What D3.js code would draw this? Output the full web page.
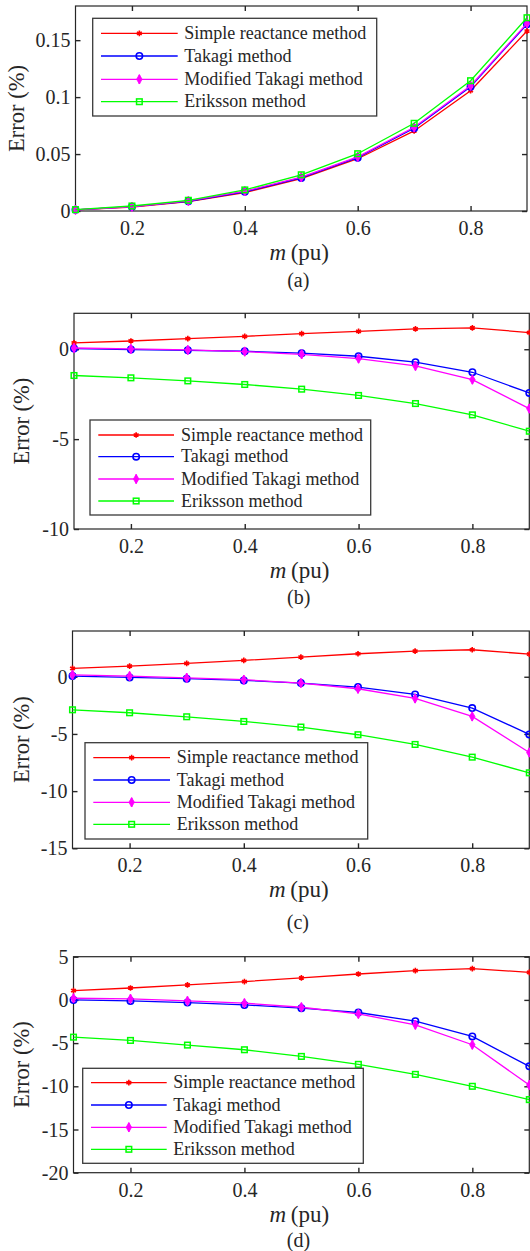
<!DOCTYPE html>
<html>
<head>
<meta charset="utf-8">
<script src="https://cdn.jsdelivr.net/npm/d3@7"></script>
<style>
  html, body { margin: 0; padding: 0; background: #ffffff; }
  svg { display: block; }
  text { font-family: "Liberation Serif", "Times New Roman", serif; fill: #262626; }
</style>
</head>
<body>
<svg id="chart" width="530" height="1251"></svg>
<script>
// ---------------- DATA ----------------
const xValues = [0.1, 0.2, 0.3, 0.4, 0.5, 0.6, 0.7, 0.8, 0.9];
const xTicks = [0.2, 0.4, 0.6, 0.8];
const seriesNames = ["Simple reactance method", "Takagi method", "Modified Takagi method", "Eriksson method"];
const panelCaptions = ["(a)", "(b)", "(c)", "(d)"];

// (a)
const aSimple   = [0.0009, 0.0035, 0.0082, 0.0162, 0.0285, 0.0459, 0.0703, 0.1056, 0.158];
const aTakagi   = [0.0010, 0.0038, 0.0085, 0.0168, 0.0290, 0.0468, 0.0726, 0.1090, 0.164];
const aModified = [0.0010, 0.0037, 0.0088, 0.0174, 0.0297, 0.0476, 0.0735, 0.1100, 0.1647];
const aEriksson = [0.0012, 0.0044, 0.0094, 0.0185, 0.0318, 0.0503, 0.0770, 0.1144, 0.1697];
const aYTicks = [0, 0.05, 0.1, 0.15];
const aYDomain = [0, 0.18];

// (b)
const bSimple   = [0.35, 0.46, 0.59, 0.72, 0.87, 1.00, 1.13, 1.19, 0.93];
const bTakagi   = [0.04, -0.02, -0.06, -0.11, -0.22, -0.39, -0.72, -1.28, -2.43];
const bModified = [0.07, 0.02, -0.04, -0.13, -0.28, -0.52, -0.93, -1.69, -3.30];
const bEriksson = [-1.46, -1.59, -1.76, -1.96, -2.22, -2.57, -3.02, -3.65, -4.56];
const bYTicks = [-10, -5, 0];
const bYDomain = [-10, 2];

// (c)
const cSimple   = [0.73, 0.93, 1.17, 1.43, 1.72, 2.01, 2.24, 2.36, 1.98];
const cTakagi   = [0.06, -0.06, -0.17, -0.32, -0.55, -0.90, -1.55, -2.74, -5.04];
const cModified = [0.17, 0.06, -0.09, -0.26, -0.55, -1.05, -1.90, -3.47, -6.62];
const cEriksson = [-2.89, -3.15, -3.50, -3.91, -4.40, -5.07, -5.92, -7.03, -8.40];
const cYTicks = [-15, -10, -5, 0];
const cYDomain = [-15, 4];

// (d)
const dSimple   = [1.08, 1.38, 1.73, 2.12, 2.54, 3.00, 3.38, 3.62, 3.19];
const dTakagi   = [0.00, -0.12, -0.31, -0.58, -0.96, -1.46, -2.46, -4.23, -7.69];
const dModified = [0.19, 0.12, -0.12, -0.38, -0.85, -1.62, -2.88, -5.19, -9.85];
const dEriksson = [-4.31, -4.69, -5.23, -5.77, -6.54, -7.46, -8.62, -10.00, -11.54];
const dYTicks = [-20, -15, -10, -5, 0, 5];
const dYDomain = [-20, 5];

// ---------------- STYLE / LAYOUT ----------------
const colors = ["#ff0000", "#0000ff", "#ff00ff", "#00ff00"];
const axisColor = "#262626";
const tickFont = 20, labelFont = 22.5, legendFont = 18;

const panels = [
  { series: [aSimple, aTakagi, aModified, aEriksson], yTicks: aYTicks, yDomain: aYDomain,
    left: 75.5, right: 527, top: 6, bottom: 211, ylabelX: 24, captionY: 287,
    legend: { x0: 92.7, x1: 376.7, y0: 18.3, y1: 116, rows: [33.3, 56, 79.3, 101.7], lx0: 101, lx1: 177.7, tx: 184.3 } },
  { series: [bSimple, bTakagi, bModified, bEriksson], yTicks: bYTicks, yDomain: bYDomain,
    left: 74, right: 529.3, top: 313.3, bottom: 529, ylabelX: 29, captionY: 603.5,
    legend: { x0: 90, x1: 370.7, y0: 420, y1: 515, rows: [435, 456.7, 479, 501], lx0: 98.3, lx1: 174, tx: 181 } },
  { series: [cSimple, cTakagi, cModified, cEriksson], yTicks: cYTicks, yDomain: cYDomain,
    left: 72.5, right: 529.3, top: 631, bottom: 848.3, ylabelX: 29, captionY: 929,
    legend: { x0: 85, x1: 367.7, y0: 742.7, y1: 839, rows: [757.7, 780, 802.3, 824.3], lx0: 93.3, lx1: 170, tx: 176.7 } },
  { series: [dSimple, dTakagi, dModified, dEriksson], yTicks: dYTicks, yDomain: dYDomain,
    left: 73.5, right: 529.3, top: 956.7, bottom: 1172.7, ylabelX: 29, captionY: 1247,
    legend: { x0: 82.7, x1: 363.3, y0: 1068.3, y1: 1163.3, rows: [1082.7, 1105, 1127.3, 1149.3], lx0: 91, lx1: 166.7, tx: 173.3 } }
];

const svg = d3.select("#chart");

function drawMarker(g, i, cx, cy) {
  const c = colors[i];
  if (i === 0) {
    g.append("path").attr("d", d3.symbol().type(d3.symbolAsterisk).size(22)())
      .attr("transform", `translate(${cx},${cy})`).attr("fill", "none").attr("stroke", c).attr("stroke-width", 1.6);
  } else if (i === 1) {
    g.append("circle").attr("cx", cx).attr("cy", cy).attr("r", 3.2)
      .attr("fill", "none").attr("stroke", c).attr("stroke-width", 1.6);
  } else if (i === 2) {
    g.append("path").attr("d", d3.symbol().type(d3.symbolDiamond).size(26)())
      .attr("transform", `translate(${cx},${cy})`).attr("fill", c).attr("stroke", c).attr("stroke-width", 0.8);
    g.append("line").attr("x1", cx).attr("x2", cx).attr("y1", cy - 4.5).attr("y2", cy + 4.5)
      .attr("stroke", c).attr("stroke-width", 1.6);
  } else {
    g.append("rect").attr("x", cx - 2.8).attr("y", cy - 2.8).attr("width", 5.6).attr("height", 5.6)
      .attr("fill", "none").attr("stroke", c).attr("stroke-width", 1.5);
  }
}

panels.forEach((p, pi) => {
  const x = d3.scaleLinear().domain([xValues[0], xValues[xValues.length - 1]]).range([p.left, p.right]);
  const y = d3.scaleLinear().domain(p.yDomain).range([p.bottom, p.top]);
  const g = svg.append("g");

  // box
  g.append("rect").attr("x", p.left).attr("y", p.top).attr("width", p.right - p.left).attr("height", p.bottom - p.top)
    .attr("fill", "#ffffff").attr("stroke", axisColor).attr("stroke-width", 1.2);

  // axes via d3 axis, inward ticks
  const tickLen = 5;
  const xb = g.append("g").attr("transform", `translate(0,${p.bottom})`)
    .call(d3.axisBottom(x).tickValues(xTicks).tickSize(-tickLen).tickPadding(12).tickFormat(d3.format(".1f")));
  const xt = g.append("g").attr("transform", `translate(0,${p.top})`)
    .call(d3.axisTop(x).tickValues(xTicks).tickSize(-tickLen).tickFormat(""));
  const yl = g.append("g").attr("transform", `translate(${p.left},0)`)
    .call(d3.axisLeft(y).tickValues(p.yTicks).tickSize(-tickLen).tickPadding(5).tickFormat(d => String(d)));
  const yr = g.append("g").attr("transform", `translate(${p.right},0)`)
    .call(d3.axisRight(y).tickValues(p.yTicks).tickSize(-tickLen).tickFormat(""));
  [xb, xt, yl, yr].forEach(a => {
    a.select(".domain").remove();
    a.selectAll(".tick line").attr("stroke", axisColor).attr("stroke-width", 1.4);
    a.selectAll("text").attr("font-size", tickFont).attr("font-family", "Liberation Serif, serif").attr("fill", axisColor);
  });
  xb.selectAll("text").attr("dy", null).attr("y", 24);
  yl.selectAll("text").attr("dy", "0.33em");

  // series lines and markers
  const line = d3.line().x((d, k) => x(xValues[k])).y(d => y(d));
  p.series.forEach((s, i) => {
    g.append("path").datum(s).attr("d", line).attr("fill", "none")
      .attr("stroke", colors[i]).attr("stroke-width", 1.3);
    const mg = g.append("g");
    s.forEach((v, k) => drawMarker(mg, i, x(xValues[k]), y(v)));
  });

  // legend
  const L = p.legend;
  g.append("rect").attr("x", L.x0).attr("y", L.y0).attr("width", L.x1 - L.x0).attr("height", L.y1 - L.y0)
    .attr("fill", "#ffffff").attr("stroke", "#3a3a3a").attr("stroke-width", 1.3);
  seriesNames.forEach((name, i) => {
    const ry = L.rows[i];
    g.append("line").attr("x1", L.lx0).attr("x2", L.lx1).attr("y1", ry).attr("y2", ry)
      .attr("stroke", colors[i]).attr("stroke-width", 1.3);
    drawMarker(g, i, (L.lx0 + L.lx1) / 2, ry);
    g.append("text").attr("x", L.tx).attr("y", ry).attr("dy", "0.32em")
      .attr("font-size", legendFont).attr("fill", "#000").text(name);
  });

  // y label
  const ymid = (p.top + p.bottom) / 2;
  g.append("text").attr("transform", `translate(${p.ylabelX},${ymid}) rotate(-90)`)
    .attr("text-anchor", "middle").attr("font-size", labelFont).text("Error (%)");

  // x label: m (pu)
  const xmid = (p.left + p.right) / 2;
  const xl = g.append("text").attr("x", xmid - 2).attr("y", p.bottom + 49)
    .attr("text-anchor", "middle").attr("font-size", 23);
  xl.append("tspan").attr("font-style", "italic").text("m");
  xl.append("tspan").text("\u2009(pu)");

  // caption
  g.append("text").attr("x", xmid - 3).attr("y", p.captionY).attr("text-anchor", "middle")
    .attr("font-size", 20).attr("fill", "#000").text(panelCaptions[pi]);
});
</script>
</body>
</html>
